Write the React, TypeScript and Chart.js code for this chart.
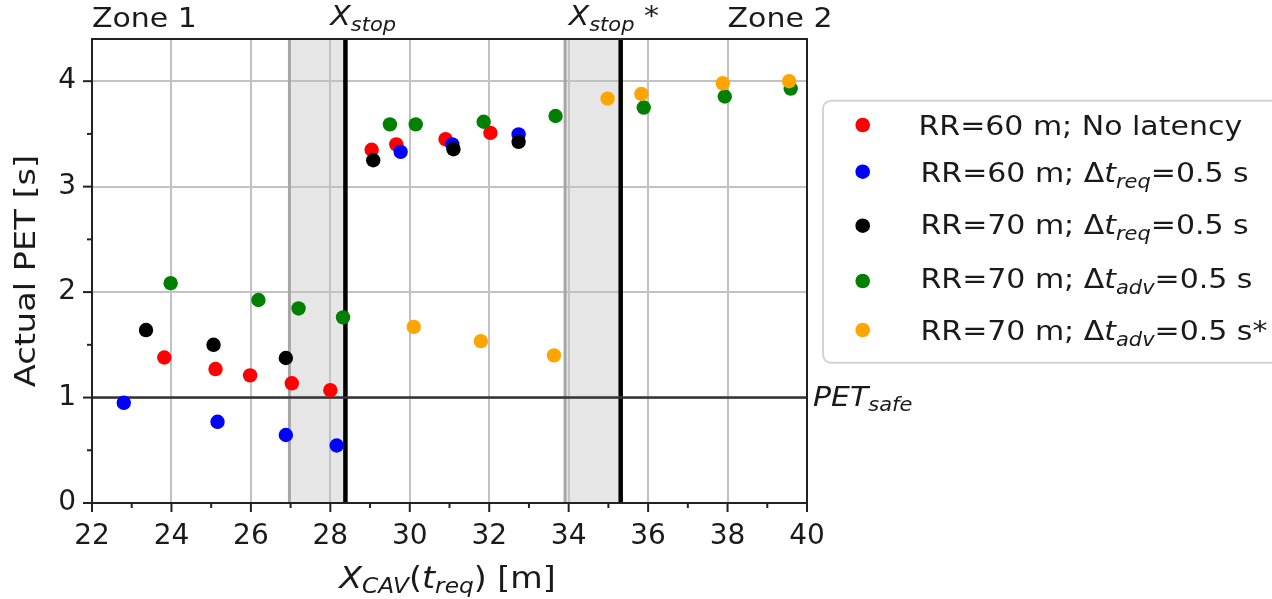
import React, { useEffect, useRef } from "react";
import { Chart, registerables } from "chart.js";

Chart.register(...registerables);

// ---------------- data ----------------
const RED_X = [23.82, 25.11, 25.98, 27.03, 28.0, 29.04, 29.66, 30.9, 32.03];
const RED_Y = [1.38, 1.27, 1.21, 1.135, 1.07, 3.35, 3.4, 3.45, 3.51];
const BLUE_X = [22.8, 25.16, 26.88, 28.16, 29.77, 31.07, 32.74];
const BLUE_Y = [0.95, 0.77, 0.645, 0.545, 3.33, 3.4, 3.495];
const BLACK_X = [23.36, 25.06, 26.88, 29.08, 31.1, 32.74];
const BLACK_Y = [1.64, 1.5, 1.375, 3.25, 3.355, 3.425];
const GREEN_X = [23.98, 26.19, 27.2, 28.32, 29.5, 30.15, 31.86, 33.67, 35.89, 37.93, 39.59];
const GREEN_Y = [2.085, 1.925, 1.845, 1.76, 3.59, 3.59, 3.615, 3.67, 3.75, 3.855, 3.93];
const ORANGE_X = [30.1, 31.79, 33.63, 34.98, 35.83, 37.88, 39.55];
const ORANGE_Y = [1.67, 1.535, 1.4, 3.835, 3.88, 3.98, 4.0];

const X_MIN = 22;
const X_MAX = 40;
const Y_MIN = 0;
const Y_MAX = 4.4;
const X_MAJOR = 2;
const Y_MAJOR = 1;

// shaded stop regions [start, stop line]
const STOP_ZONES = [
  [26.97, 28.38],
  [33.91, 35.31],
];
const PET_SAFE = 1;

type Seg = { t: string; i?: boolean; sub?: boolean };

const SERIES_COLORS = ["#ff0000", "#0000ff", "#000000", "#008000", "#ffa500"];
const SERIES_LABELS: Seg[][] = [
  [{ t: "RR=60 m; No latency" }],
  [{ t: "RR=60 m; Δ" }, { t: "t", i: true }, { t: "req", i: true, sub: true }, { t: "=0.5 s" }],
  [{ t: "RR=70 m; Δ" }, { t: "t", i: true }, { t: "req", i: true, sub: true }, { t: "=0.5 s" }],
  [{ t: "RR=70 m; Δ" }, { t: "t", i: true }, { t: "adv", i: true, sub: true }, { t: "=0.5 s" }],
  [{ t: "RR=70 m; Δ" }, { t: "t", i: true }, { t: "adv", i: true, sub: true }, { t: "=0.5 s*" }],
];
const SERIES_X = [RED_X, BLUE_X, BLACK_X, GREEN_X, ORANGE_X];
const SERIES_Y = [RED_Y, BLUE_Y, BLACK_Y, GREEN_Y, ORANGE_Y];

const X_TITLE: Seg[] = [
  { t: "X", i: true },
  { t: "CAV", i: true, sub: true },
  { t: "(" },
  { t: "t", i: true },
  { t: "req", i: true, sub: true },
  { t: ") [m]" },
];
const Y_TITLE: Seg[] = [{ t: "Actual PET [s]" }];
const ZONE1: Seg[] = [{ t: "Zone 1" }];
const ZONE2: Seg[] = [{ t: "Zone 2" }];
const XSTOP: Seg[] = [{ t: "X", i: true }, { t: "stop", i: true, sub: true }];
const XSTOP2: Seg[] = [{ t: "X", i: true }, { t: "stop", i: true, sub: true }, { t: " *" }];
const PETSAFE: Seg[] = [{ t: "PET", i: true }, { t: "safe", i: true, sub: true }];

const FONT = '"DejaVu Sans", "Noto Sans", sans-serif';
const TEXT_COLOR = "#1a1a1a";
const FS = 27;
const SX = 1.11;

function segFont(s: Seg, size: number) {
  const sz = s.sub ? size * 0.7 : size;
  return `${s.i ? "italic " : ""}${sz}px ${FONT}`;
}

function drawRich(
  ctx: CanvasRenderingContext2D,
  segs: Seg[],
  x: number,
  y: number,
  size: number,
  sx: number,
  align: "left" | "center" = "left",
  subShift = 0.22
) {
  ctx.save();
  ctx.textBaseline = "alphabetic";
  ctx.textAlign = "left";
  let total = 0;
  const widths: number[] = [];
  for (const s of segs) {
    ctx.font = segFont(s, size);
    const w = ctx.measureText(s.t).width;
    widths.push(w);
    total += w;
  }
  ctx.translate(x, y);
  ctx.scale(sx, 1);
  let cx = align === "center" ? -total / 2 : 0;
  ctx.fillStyle = TEXT_COLOR;
  segs.forEach((s, k) => {
    ctx.font = segFont(s, size);
    ctx.fillText(s.t, cx, s.sub ? size * subShift : 0);
    cx += widths[k];
  });
  ctx.restore();
}

const decorPlugin = {
  id: "decor",
  beforeDraw(chart: any) {
    const { ctx, chartArea: a, scales } = chart;
    const xs = scales.x;
    ctx.save();
    ctx.fillStyle = "#ffffff";
    ctx.fillRect(0, 0, chart.width, chart.height);
    ctx.fillStyle = "#e6e6e6";
    for (const [s, e] of STOP_ZONES) {
      const x0 = xs.getPixelForValue(s);
      const x1 = xs.getPixelForValue(e);
      ctx.fillRect(x0, a.top, x1 - x0, a.bottom - a.top);
    }
    ctx.restore();
  },
  beforeDatasetsDraw(chart: any) {
    const { ctx, chartArea: a, scales } = chart;
    const xs = scales.x;
    const ys = scales.y;
    ctx.save();
    for (const [s, e] of STOP_ZONES) {
      const x0 = xs.getPixelForValue(s);
      const x1 = xs.getPixelForValue(e);
      ctx.strokeStyle = "#a6a6a6";
      ctx.lineWidth = 3;
      ctx.beginPath();
      ctx.moveTo(x0, a.top);
      ctx.lineTo(x0, a.bottom);
      ctx.stroke();
      ctx.strokeStyle = "#000000";
      ctx.lineWidth = 4.5;
      ctx.beginPath();
      ctx.moveTo(x1, a.top);
      ctx.lineTo(x1, a.bottom);
      ctx.stroke();
    }
    const yp = ys.getPixelForValue(PET_SAFE);
    ctx.strokeStyle = "#333333";
    ctx.lineWidth = 2.6;
    ctx.beginPath();
    ctx.moveTo(a.left, yp);
    ctx.lineTo(a.right, yp);
    ctx.stroke();
    ctx.restore();
  },
  afterDraw(chart: any) {
    const { ctx, chartArea: a, scales } = chart;
    const xs = scales.x;
    const ys = scales.y;
    ctx.save();
    // spines
    ctx.strokeStyle = "#222222";
    ctx.lineWidth = 2;
    ctx.strokeRect(a.left, a.top, a.right - a.left, a.bottom - a.top);
    // tick marks
    ctx.lineWidth = 2;
    for (let v = X_MIN; v <= X_MAX + 1e-9; v += 1) {
      const p = xs.getPixelForValue(v);
      const major = Math.abs(v / X_MAJOR - Math.round(v / X_MAJOR)) < 1e-6;
      ctx.beginPath();
      ctx.moveTo(p, a.bottom);
      ctx.lineTo(p, a.bottom + (major ? 9 : 5));
      ctx.stroke();
    }
    for (let v = Y_MIN; v <= 4 + 1e-9; v += 0.5) {
      const p = ys.getPixelForValue(v);
      const major = Math.abs(v / Y_MAJOR - Math.round(v / Y_MAJOR)) < 1e-6;
      ctx.beginPath();
      ctx.moveTo(a.left, p);
      ctx.lineTo(a.left - (major ? 9 : 5), p);
      ctx.stroke();
    }
    ctx.restore();

    // annotations
    drawRich(ctx, ZONE1, xs.getPixelForValue(22), 27, FS, SX);
    drawRich(ctx, XSTOP, xs.getPixelForValue(28), 25, FS, SX);
    drawRich(ctx, XSTOP2, xs.getPixelForValue(34), 25, FS, SX);
    drawRich(ctx, ZONE2, xs.getPixelForValue(38), 27, FS, SX);
    drawRich(ctx, PETSAFE, a.right + 6, ys.getPixelForValue(PET_SAFE) + 8, FS, SX);

    // axis titles
    drawRich(ctx, X_TITLE, (a.left + a.right) / 2 - 2, 588, 30, SX, "center", 0.17);
    ctx.save();
    ctx.translate(35, (a.top + a.bottom) / 2);
    ctx.rotate(-Math.PI / 2);
    drawRich(ctx, Y_TITLE, 0, 0, 28, 1.2, "center");
    ctx.restore();

    // legend
    ctx.save();
    const lx = 823, ly = 100.7, lw = 480, lh = 262;
    const r = 8;
    ctx.fillStyle = "rgba(255,255,255,0.85)";
    ctx.strokeStyle = "#d4d4d4";
    ctx.lineWidth = 2;
    ctx.beginPath();
    ctx.moveTo(lx + r, ly);
    ctx.lineTo(lx + lw - r, ly);
    ctx.arcTo(lx + lw, ly, lx + lw, ly + r, r);
    ctx.lineTo(lx + lw, ly + lh - r);
    ctx.arcTo(lx + lw, ly + lh, lx + lw - r, ly + lh, r);
    ctx.lineTo(lx + r, ly + lh);
    ctx.arcTo(lx, ly + lh, lx, ly + lh - r, r);
    ctx.lineTo(lx, ly + r);
    ctx.arcTo(lx, ly, lx + r, ly, r);
    ctx.closePath();
    ctx.fill();
    ctx.stroke();
    ctx.restore();
    const baselines = [134.5, 181.7, 234, 288.3, 340];
    const dotY = [125, 171.7, 225.7, 281, 330];
    chart.data.datasets.forEach((ds: any, k: number) => {
      ctx.save();
      ctx.fillStyle = ds.backgroundColor;
      ctx.beginPath();
      ctx.arc(862.7, dotY[k], 7.3, 0, Math.PI * 2);
      ctx.fill();
      ctx.restore();
      drawRich(ctx, SERIES_LABELS[k], k === 0 ? 918.5 : 920.5, baselines[k], FS, SX);
    });
  },
};

export default function App() {
  const ref = useRef<HTMLCanvasElement | null>(null);
  useEffect(() => {
    if (!ref.current) return;
    const datasets = SERIES_X.map((xs, k) => ({
      label: SERIES_LABELS[k].map((s) => s.t).join(""),
      data: xs.map((x, j) => ({ x, y: SERIES_Y[k][j] })),
      backgroundColor: SERIES_COLORS[k],
      borderColor: SERIES_COLORS[k],
      pointRadius: 7.2,
      pointBorderWidth: 0,
      pointHoverRadius: 7.2,
      order: SERIES_X.length - k,
    }));
    const chart = new Chart(ref.current, {
      type: "scatter",
      data: { datasets },
      options: {
        animation: false,
        responsive: false,
        maintainAspectRatio: false,
        events: [],
        layout: { padding: { left: 0, top: 39, right: 465, bottom: 0 } },
        plugins: {
          legend: { display: false },
          tooltip: { enabled: false },
          title: { display: false },
        },
        scales: {
          x: {
            type: "linear",
            min: X_MIN,
            max: X_MAX,
            afterFit: (s: any) => {
              s.height = 96;
            },
            border: { display: false },
            grid: {
              drawTicks: false,
              lineWidth: 2,
              color: (c: any) =>
                c.tick && Math.abs(c.tick.value % X_MAJOR) < 1e-6 ? "#c2c2c2" : "rgba(0,0,0,0)",
            },
            ticks: {
              stepSize: 1,
              autoSkip: false,
              maxRotation: 0,
              padding: 17,
              color: TEXT_COLOR,
              font: { family: FONT, size: 28 },
              callback: (v: any) => (Math.abs(Number(v) % X_MAJOR) < 1e-6 ? String(v) : ""),
            },
          },
          y: {
            type: "linear",
            min: Y_MIN,
            max: Y_MAX,
            afterFit: (s: any) => {
              s.width = 92;
            },
            border: { display: false },
            grid: {
              drawTicks: false,
              lineWidth: 2,
              color: (c: any) =>
                c.tick && Math.abs(c.tick.value - Math.round(c.tick.value)) < 1e-6 && c.tick.value <= 4
                  ? "#c2c2c2"
                  : "rgba(0,0,0,0)",
            },
            ticks: {
              stepSize: 0.5,
              autoSkip: false,
              padding: 16,
              color: TEXT_COLOR,
              font: { family: FONT, size: 28 },
              callback: (v: any) => {
                const n = Number(v);
                return Math.abs(n - Math.round(n)) < 1e-6 && n <= 4 ? String(n) : "";
              },
            },
          },
        },
      },
      plugins: [decorPlugin],
    });
    return () => chart.destroy();
  }, []);
  return (
    <div style={{ position: "fixed", left: 0, top: 0, width: 1272, height: 599, background: "#fff" }}>
      <canvas ref={ref} width={1272} height={599} style={{ display: "block", width: 1272, height: 599 }} />
    </div>
  );
}
